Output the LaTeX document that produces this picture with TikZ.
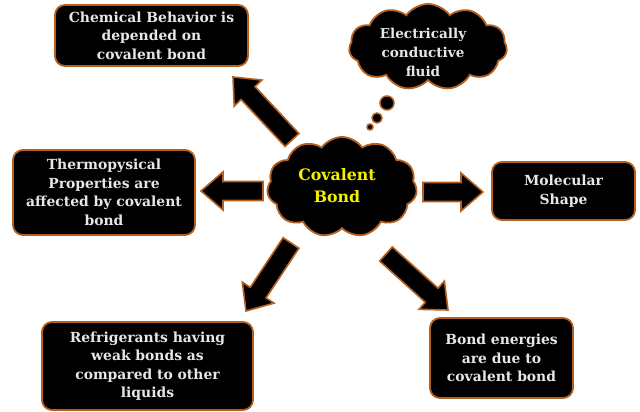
\documentclass[tikz,border=0pt]{standalone}
\usepackage{fontspec}
\setmainfont{DejaVu Serif}
\usetikzlibrary{shapes.symbols,calc}
\definecolor{edge}{HTML}{B5601E}
\definecolor{txt}{HTML}{E6E6E6}
\definecolor{yel}{HTML}{F2F200}
\tikzset{
  lbl/.style={text=txt, font=\bfseries\fontsize{13.9}{18.5}\selectfont, align=center, inner sep=0pt},
  box/.style={lbl, draw=edge, line width=1.8pt, fill=black, rounded corners=10pt, inner sep=2pt},
  cloudbox/.style={cloud, cloud puffs=11, cloud puff arc=110, draw=edge, line width=1.8pt,
    fill=black, inner sep=0pt},
  bubble/.style={circle, draw=edge, line width=1.5pt, fill=black, inner sep=0pt},
  barrow/.style={draw=edge, line width=1.6pt, fill=black, line join=miter}
}
\newcommand\blockarrow[2]{%
  \draw[barrow] let \p1=(#1), \p2=(#2),
    \n1={atan2(\y2-\y1,\x2-\x1)}, \n2={veclen(\x2-\x1,\y2-\y1)} in
    ($(\p1)+(\n1+90:9.5pt)$) --
    ($(\p1)+(\n1:{\n2-22pt})+(\n1+90:9.5pt)$) --
    ($(\p1)+(\n1:{\n2-22pt})+(\n1+90:19pt)$) --
    (\p2) --
    ($(\p1)+(\n1:{\n2-22pt})+(\n1-90:19pt)$) --
    ($(\p1)+(\n1:{\n2-22pt})+(\n1-90:9.5pt)$) --
    ($(\p1)+(\n1-90:9.5pt)$) -- cycle;}
\begin{document}
\begin{tikzpicture}[x=1pt,y=1pt]
\useasboundingbox (0,0) rectangle (640,412);
% arrows
\coordinate (ulT) at (292,272); \coordinate (ulH) at (233,335);
\coordinate (lT) at (263,221);  \coordinate (lH) at (201,221);
\coordinate (rT) at (423,220);  \coordinate (rH) at (483,220);
\coordinate (llT) at (291,169); \coordinate (llH) at (246,101);
\coordinate (lrT) at (386,158); \coordinate (lrH) at (448,102);
\blockarrow{ulT}{ulH}
\blockarrow{lT}{lH}
\blockarrow{rT}{rH}
\blockarrow{llT}{llH}
\blockarrow{lrT}{lrH}
% clouds
\node[cloudbox, minimum width=150pt, minimum height=100pt] (cov) at (342,225) {};
\node[lbl, text=yel, font=\bfseries\fontsize{15.8}{22}\selectfont] (covt) at (337,226) {Covalent\\Bond};
\node[cloudbox, minimum width=158pt, minimum height=86pt] (elec) at (428,365) {};
\node[lbl, font=\bfseries\fontsize{13.6}{19}\selectfont] (elect) at (423,360) {Electrically\\conductive\\fluid};
\node[bubble, minimum size=14pt] (b1) at (387,309) {};
\node[bubble, minimum size=10pt] (b2) at (377,294) {};
\node[bubble, minimum size=6pt] (b3) at (370,285) {};
% boxes
\node[box, minimum width=193pt, minimum height=61pt] (chem) at (151.5,376.5)
  {Chemical Behavior is\\depended on\\covalent bond};
\node[box, minimum width=182pt, minimum height=85pt] (thermo) at (104,219.5)
  {Thermopysical\\Properties are\\affected by covalent\\bond};
\node[box, minimum width=211pt, minimum height=88pt] (refr) at (147.5,46)
  {Refrigerants having\\weak bonds as\\compared to other\\liquids};
\node[box, minimum width=143pt, minimum height=80pt] (bonde) at (501.5,54)
  {Bond energies\\are due to\\covalent bond};
\node[box, minimum width=143pt, minimum height=58pt] (mol) at (563.5,221)
  {Molecular\\Shape};
\end{tikzpicture}
\end{document}
